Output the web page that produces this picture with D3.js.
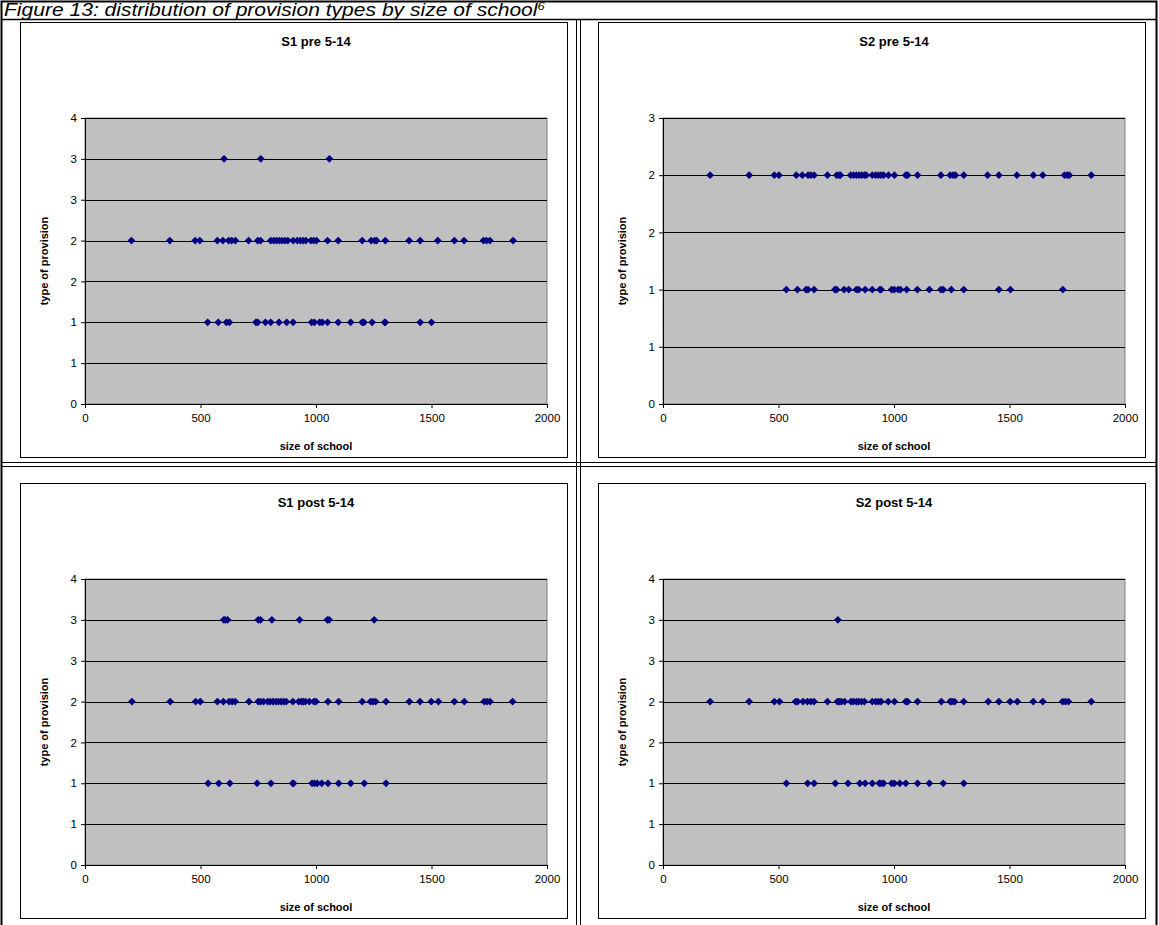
<!DOCTYPE html>
<html>
<head>
<meta charset="utf-8">
<script src="https://cdn.jsdelivr.net/npm/d3@7"></script>
<style>
body { margin: 0; background: #fff; }
svg { display: block; font-family: "Liberation Sans", Arial, sans-serif; }
</style>
</head>
<body>
<div id="fig"></div>
<script>
// school sizes for each provision type
var s1PreType3 = [602, 761, 1058];
var s1PreType2 = [201, 367, 477, 497, 573, 597, 622, 635, 651, 708, 748, 760, 804, 817, 829, 841, 853, 866, 878, 901, 919, 932, 944, 956, 978, 990, 1002, 1050, 1096, 1200, 1239, 1254, 1262, 1300, 1403, 1451, 1527, 1599, 1641, 1725, 1738, 1753, 1853];
var s1PreType1 = [531, 577, 612, 625, 740, 748, 781, 804, 840, 873, 901, 981, 993, 1016, 1027, 1050, 1096, 1150, 1200, 1208, 1243, 1297, 1300, 1451, 1500];

var s2PreType2 = [204, 373, 482, 502, 577, 603, 628, 640, 654, 712, 752, 763, 768, 812, 824, 837, 849, 860, 872, 880, 906, 921, 933, 944, 955, 976, 1002, 1051, 1059, 1102, 1203, 1243, 1256, 1266, 1302, 1405, 1454, 1532, 1603, 1644, 1738, 1750, 1759, 1854];
var s2PreType1 = [534, 582, 619, 628, 654, 744, 752, 784, 804, 837, 847, 875, 906, 939, 944, 990, 1001, 1018, 1028, 1055, 1101, 1153, 1203, 1213, 1248, 1302, 1454, 1504, 1731];

var s1PostType3 = [601, 607, 617, 750, 760, 809, 929, 1049, 1057, 1252];
var s1PostType2 = [203, 369, 479, 499, 573, 599, 624, 637, 650, 710, 750, 760, 773, 791, 802, 814, 826, 837, 849, 860, 871, 900, 925, 937, 945, 954, 971, 991, 1000, 1052, 1098, 1200, 1236, 1247, 1258, 1303, 1404, 1450, 1499, 1530, 1599, 1642, 1728, 1740, 1753, 1851];
var s1PostType1 = [533, 579, 627, 745, 805, 899, 903, 983, 994, 1006, 1025, 1052, 1098, 1150, 1209, 1303];

var s2PostType3 = [757];
var s2PostType2 = [204, 373, 482, 504, 574, 583, 606, 625, 640, 654, 712, 755, 764, 772, 786, 814, 824, 837, 847, 860, 872, 906, 921, 933, 944, 975, 1002, 1051, 1059, 1102, 1205, 1243, 1251, 1262, 1302, 1408, 1454, 1503, 1534, 1603, 1644, 1730, 1742, 1755, 1854];
var s2PostType1 = [534, 626, 654, 746, 801, 852, 875, 906, 936, 944, 955, 990, 1001, 1025, 1051, 1102, 1153, 1213, 1302];

// axis ticks (Excel shows the half steps rounded to whole numbers)
var xTicks = [0, 500, 1000, 1500, 2000];
var yTicksTall = [0, 0.5, 1, 1.5, 2, 2.5, 3, 3.5];
var yLabelsTall = ["0", "1", "1", "2", "2", "3", "3", "4"];
var yTicksShort = [0, 0.5, 1, 1.5, 2, 2.5];
var yLabelsShort = ["0", "1", "1", "2", "2", "3"];

var figTitle = "Figure 13: distribution of provision types by size of school";

function toPoints(list, type) {
    return list.map(function(s) { return {size: s, type: type}; });
}

var panels = [
    {title: "S1 pre 5-14", col: 0, row: 0, ticks: yTicksTall, labels: yLabelsTall,
     points: toPoints(s1PreType3, 3).concat(toPoints(s1PreType2, 2), toPoints(s1PreType1, 1))},
    {title: "S2 pre 5-14", col: 1, row: 0, ticks: yTicksShort, labels: yLabelsShort,
     points: toPoints(s2PreType2, 2).concat(toPoints(s2PreType1, 1))},
    {title: "S1 post 5-14", col: 0, row: 1, ticks: yTicksTall, labels: yLabelsTall,
     points: toPoints(s1PostType3, 3).concat(toPoints(s1PostType2, 2), toPoints(s1PostType1, 1))},
    {title: "S2 post 5-14", col: 1, row: 1, ticks: yTicksTall, labels: yLabelsTall,
     points: toPoints(s2PostType3, 3).concat(toPoints(s2PostType2, 2), toPoints(s2PostType1, 1))}
];

var W = 1159, H = 925;
var svg = d3.select('#fig').append('svg')
    .attr('width', W)
    .attr('height', H);

// table frame round the figure
var frame = svg.append('g').attr('fill', 'none').attr('stroke', '#000');
frame.append('rect').attr('x', 1.5).attr('y', 1.5).attr('width', 1155).attr('height', 930).attr('stroke-width', 2);
frame.append('line').attr('x1', 1).attr('x2', 1157).attr('y1', 19.5).attr('y2', 19.5).attr('stroke-width', 1.5);
frame.append('line').attr('x1', 576.5).attr('x2', 576.5).attr('y1', 19).attr('y2', H);
frame.append('line').attr('x1', 580.5).attr('x2', 580.5).attr('y1', 19).attr('y2', H);
frame.append('line').attr('x1', 1).attr('x2', 1157).attr('y1', 462.5).attr('y2', 462.5);
frame.append('line').attr('x1', 1).attr('x2', 1157).attr('y1', 466.5).attr('y2', 466.5);

// the figure caption is a little wider than plain Arial, so stretch it sideways
var titleText = svg.append('text')
    .attr('transform', 'translate(4,16) scale(1.17,1)')
    .attr('font-size', 18)
    .attr('font-style', 'italic')
    .text(figTitle);
titleText.append('tspan')
    .attr('font-size', 11)
    .attr('dy', -6)
    .text('6');

var box = {width: 547, height: 435};
var margin = {top: 96, left: 65, right: 20, bottom: 53};
var plotW = box.width - margin.left - margin.right;
var plotH = box.height - margin.top - margin.bottom;

var diamond = d3.symbol().type(d3.symbolSquare).size(30);

panels.forEach(function(p) {
    var bx = p.col === 0 ? 20 : 598;
    var by = p.row === 0 ? 22 : 483;

    var g = svg.append('g')
        .attr('transform', 'translate(' + bx + ',' + by + ')');

    g.append('rect')
        .attr('x', 0.5).attr('y', 0.5)
        .attr('width', box.width).attr('height', box.height)
        .attr('fill', '#fff')
        .attr('stroke', '#000');

    g.append('text')
        .attr('x', margin.left + plotW / 2)
        .attr('y', 24)
        .attr('text-anchor', 'middle')
        .attr('font-size', 13)
        .attr('font-weight', 'bold')
        .text(p.title);

    var x = d3.scaleLinear().domain([0, 2000]).range([0, plotW]);
    var yMax = p.ticks[p.ticks.length - 1];
    var y = d3.scaleLinear().domain([0, yMax]).range([plotH, 0]);

    var graph = g.append('g')
        .attr('transform', 'translate(' + margin.left + ',' + margin.top + ')');

    graph.append('rect')
        .attr('x', 0).attr('y', 0)
        .attr('width', plotW).attr('height', plotH)
        .attr('fill', '#c0c0c0')
        .attr('stroke', '#808080');

    // gridlines
    graph.append('g')
        .selectAll('line')
        .data(p.ticks.slice(1))
        .enter()
        .append('line')
        .attr('x1', 0).attr('x2', plotW)
        .attr('y1', function(d) { return Math.round(y(d)) + 0.5; })
        .attr('y2', function(d) { return Math.round(y(d)) + 0.5; })
        .attr('stroke', '#000');

    var xAxis = d3.axisBottom(x)
        .tickValues(xTicks)
        .tickFormat(d3.format('d'))
        .tickSize(4)
        .tickSizeOuter(0)
        .tickPadding(6);

    var yAxis = d3.axisLeft(y)
        .tickValues(p.ticks)
        .tickFormat(function(d, i) { return p.labels[i]; })
        .tickSize(4)
        .tickSizeOuter(0)
        .tickPadding(4);

    var xg = graph.append('g')
        .attr('transform', 'translate(0,' + plotH + ')')
        .call(xAxis);
    var yg = graph.append('g').call(yAxis);

    [xg, yg].forEach(function(a) {
        a.selectAll('path, line').attr('stroke', '#000');
        a.selectAll('text').attr('font-size', 11.5).attr('fill', '#000')
            .attr('font-family', '"Liberation Sans", Arial, sans-serif');
    });

    graph.append('g')
        .selectAll('path')
        .data(p.points)
        .enter()
        .append('path')
        .attr('d', diamond)
        .attr('transform', function(d) {
            return 'translate(' + x(d.size) + ',' + y(d.type) + ') rotate(45)';
        })
        .attr('fill', '#000080');

    graph.append('text')
        .attr('x', plotW / 2)
        .attr('y', plotH + 46)
        .attr('text-anchor', 'middle')
        .attr('font-size', 11)
        .attr('font-weight', 'bold')
        .text('size of school');

    graph.append('text')
        .attr('transform', 'translate(-37,' + plotH / 2 + ') rotate(-90)')
        .attr('text-anchor', 'middle')
        .attr('font-size', 11)
        .attr('font-weight', 'bold')
        .text('type of provision');
});
</script>
</body>
</html>
